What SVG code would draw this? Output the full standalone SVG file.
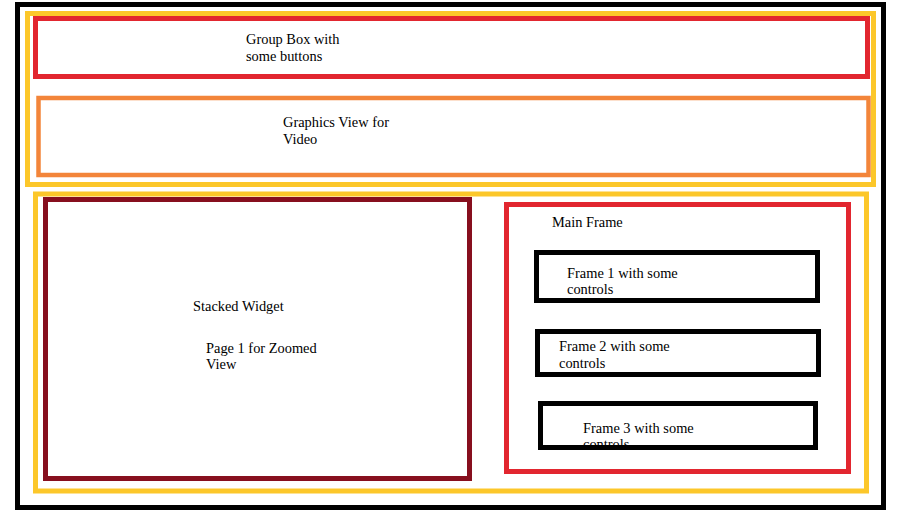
<svg xmlns="http://www.w3.org/2000/svg" width="906" height="525" viewBox="0 0 906 525">
<style>
  .box { fill: none; }
  .blk { stroke: #000000; stroke-width: 5; }
  .yel { stroke: #FCC72A; stroke-width: 5; }
  .red { stroke: #E2262F; stroke-width: 5; }
  .org { stroke: #F3853A; stroke-width: 4.5; }
  .drd { stroke: #870F1E; stroke-width: 5; }
  text { font-family: "Liberation Serif", "Times New Roman", serif; font-size: 14.4px; fill: #000000; }
</style>
<defs>
  <clipPath id="clip3"><rect x="543" y="406" width="270" height="39"/></clipPath>
</defs>
<rect x="0" y="0" width="906" height="525" fill="#ffffff"/>
<g id="window"><rect class="box blk" x="17.5" y="4.5" width="866" height="503"/></g>
<g id="top-area"><rect class="box yel" x="27.5" y="13.5" width="846" height="171"/></g>
<g id="group-box">
  <rect class="box red" x="35.5" y="18.5" width="832" height="58"/>
  <text x="246" y="44">Group Box with</text>
  <text x="246" y="61">some buttons</text>
</g>
<g id="graphics-view">
  <rect class="box org" x="38.5" y="98" width="830" height="77"/>
  <text x="283" y="127">Graphics View for</text>
  <text x="283" y="144">Video</text>
</g>
<g id="bottom-area"><rect class="box yel" x="35.5" y="194" width="831" height="297"/></g>
<g id="stacked-widget">
  <rect class="box drd" x="45.5" y="199.5" width="424" height="279"/>
  <text x="193" y="311">Stacked Widget</text>
  <text x="206" y="352.5">Page 1 for Zoomed</text>
  <text x="206" y="369">View</text>
</g>
<g id="main-frame">
  <rect class="box red" x="506.5" y="204.5" width="342" height="267"/>
  <text x="552" y="226.5">Main Frame</text>
</g>
<g id="frame1">
  <rect class="box blk" x="536.5" y="252.5" width="281" height="48"/>
  <text x="567" y="277.5">Frame 1 with some</text>
  <text x="567" y="294">controls</text>
</g>
<g id="frame2">
  <rect class="box blk" x="537.5" y="331.5" width="281" height="43"/>
  <text x="559" y="351">Frame 2 with some</text>
  <text x="559" y="368">controls</text>
</g>
<g id="frame3">
  <g clip-path="url(#clip3)">
    <text x="583" y="432.5">Frame 3 with some</text>
    <text x="583" y="449">controls</text>
  </g>
  <rect class="box blk" x="540.5" y="403.5" width="275" height="44"/>
</g>
<g id="connectors"></g>
</svg>
